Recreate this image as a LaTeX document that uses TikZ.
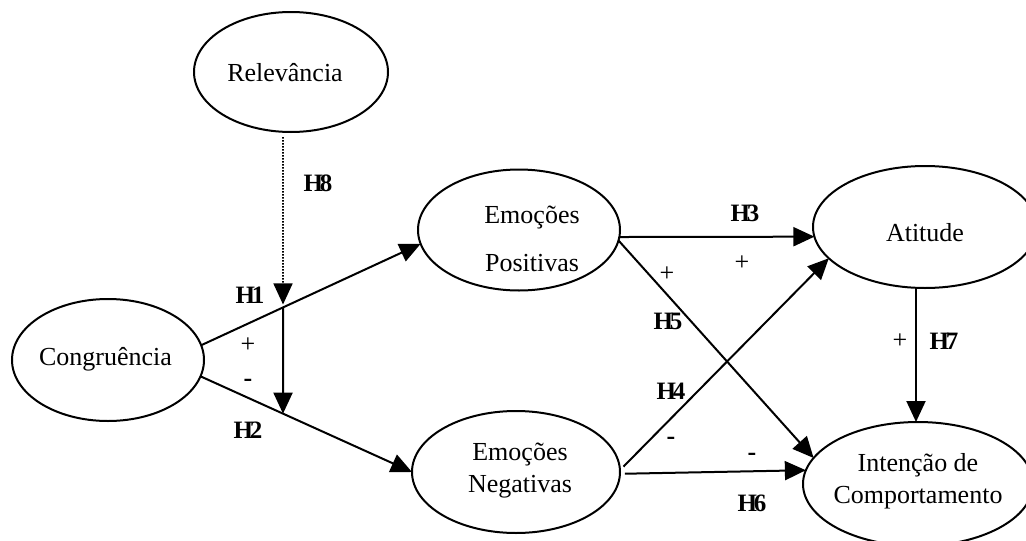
\documentclass[tikz,border=0pt]{standalone}
\usepackage{fontspec}
\setmainfont{Liberation Serif}
\usetikzlibrary{arrows.meta,shapes.geometric,calc}
\begin{document}
\begin{tikzpicture}[x=1pt,y=-1pt,
  ell/.style={ellipse, draw, line width=2pt, inner sep=0pt, outer sep=0pt},
  nm/.style={font=\fontsize{26}{32}\selectfont, align=center, inner sep=0pt},
  hyp/.style={font=\fontsize{25}{30}\selectfont\bfseries, inner sep=0pt},
  sgn/.style={font=\fontsize{26}{30}\selectfont, inner sep=0pt},
  conn/.style={line width=2pt, -{Triangle[length=21pt,width=19pt]}},
  dotconn/.style={line width=1.7pt, dash pattern=on 1.6pt off 1.4pt, -{Triangle[length=21pt,width=19pt]}}
]
\useasboundingbox (0,0) rectangle (1026,541);
\clip (0,0) rectangle (1026,541);

% constructs
\node[ell, minimum width=194pt, minimum height=120pt,
      label={[nm, xshift=-6pt, yshift=-1pt]center:Relevância}] (rel) at (291,72) {};
\node[ell, minimum width=192pt, minimum height=122pt,
      label={[nm, xshift=-2.5pt, yshift=1pt]center:Congruência}] (c) at (108,360) {};
\node[ell, minimum width=202pt, minimum height=121pt,
      label={[nm, xshift=13pt, yshift=-9pt]center:{Emoções\\[16pt]Positivas}}] (ep) at (519,230) {};
\node[ell, minimum width=208pt, minimum height=122pt,
      label={[nm, xshift=4pt, yshift=1pt]center:{Emoções\\Negativas}}] (en) at (516,472) {};
\node[ell, minimum width=224pt, minimum height=122pt,
      label={[nm, yshift=-6pt]center:Atitude}] (at) at (925,227) {};
\node[ell, minimum width=230pt, minimum height=124pt,
      label={[nm, yshift=3pt]center:{Intenção de\\Comportamento}}] (ic) at (918,484) {};

% helper coordinates
\coordinate (vx) at (283,0);
\coordinate (vy) at (283,600);
\coordinate (a1) at (c.9);
\coordinate (a2) at (ep.188);
\coordinate (b1) at (c.-10);
\coordinate (b2) at (en.west);
\coordinate (m1) at (intersection of a1--a2 and vx--vy);
\coordinate (m2) at (intersection of b1--b2 and vx--vy);
\coordinate (d0) at ($(rel.south -| vx)+(0,5)$);
\coordinate (h7x) at (916,0);

% connectors
\draw[conn] (a1) -- (a2);
\draw[conn] (b1) -- (b2);
\draw[dotconn, shorten >=3pt] (d0) -- (m1);
\draw[conn] (m1) -- (m2);
\draw[conn] (ep.-4.5) -- (at.185.7);
\draw[conn] (ep.-6) -- (ic.166.6);
\draw[conn, shorten <=5pt] (en.1) -- (at.198);
\draw[conn, shorten <=5pt] (en.-1) -- (ic.173);
\draw[conn] (at.south -| h7x) -- (ic.north -| h7x);

% hypothesis labels
\node[hyp] (h8) at (318,183) {H\kern-3pt 8};
\node[hyp] (h1) at (250,295) {H\kern-3pt 1};
\node[hyp] (h2) at (248,430) {H\kern-3pt 2};
\node[hyp] (h3) at (745,213) {H\kern-3pt 3};
\node[hyp] (h5) at (668,321) {H\kern-3pt 5};
\node[hyp] (h4) at (671,391) {H\kern-3pt 4};
\node[hyp] (h6) at (752,503) {H\kern-3pt 6};
\node[hyp] (h7) at (944,341) {H\kern-3pt 7};

% signs
\node[sgn] (s1) at (248,345) {+};
\node[sgn] (s2) at (248,383) {\textbf{-}};
\node[sgn] (s3) at (742,263) {+};
\node[sgn] (s5) at (667,274) {+};
\node[sgn] (s4) at (671,441) {\textbf{-}};
\node[sgn] (s6) at (752,457) {\textbf{-}};
\node[sgn] (s7) at (900,341) {+};
\end{tikzpicture}
\end{document}
